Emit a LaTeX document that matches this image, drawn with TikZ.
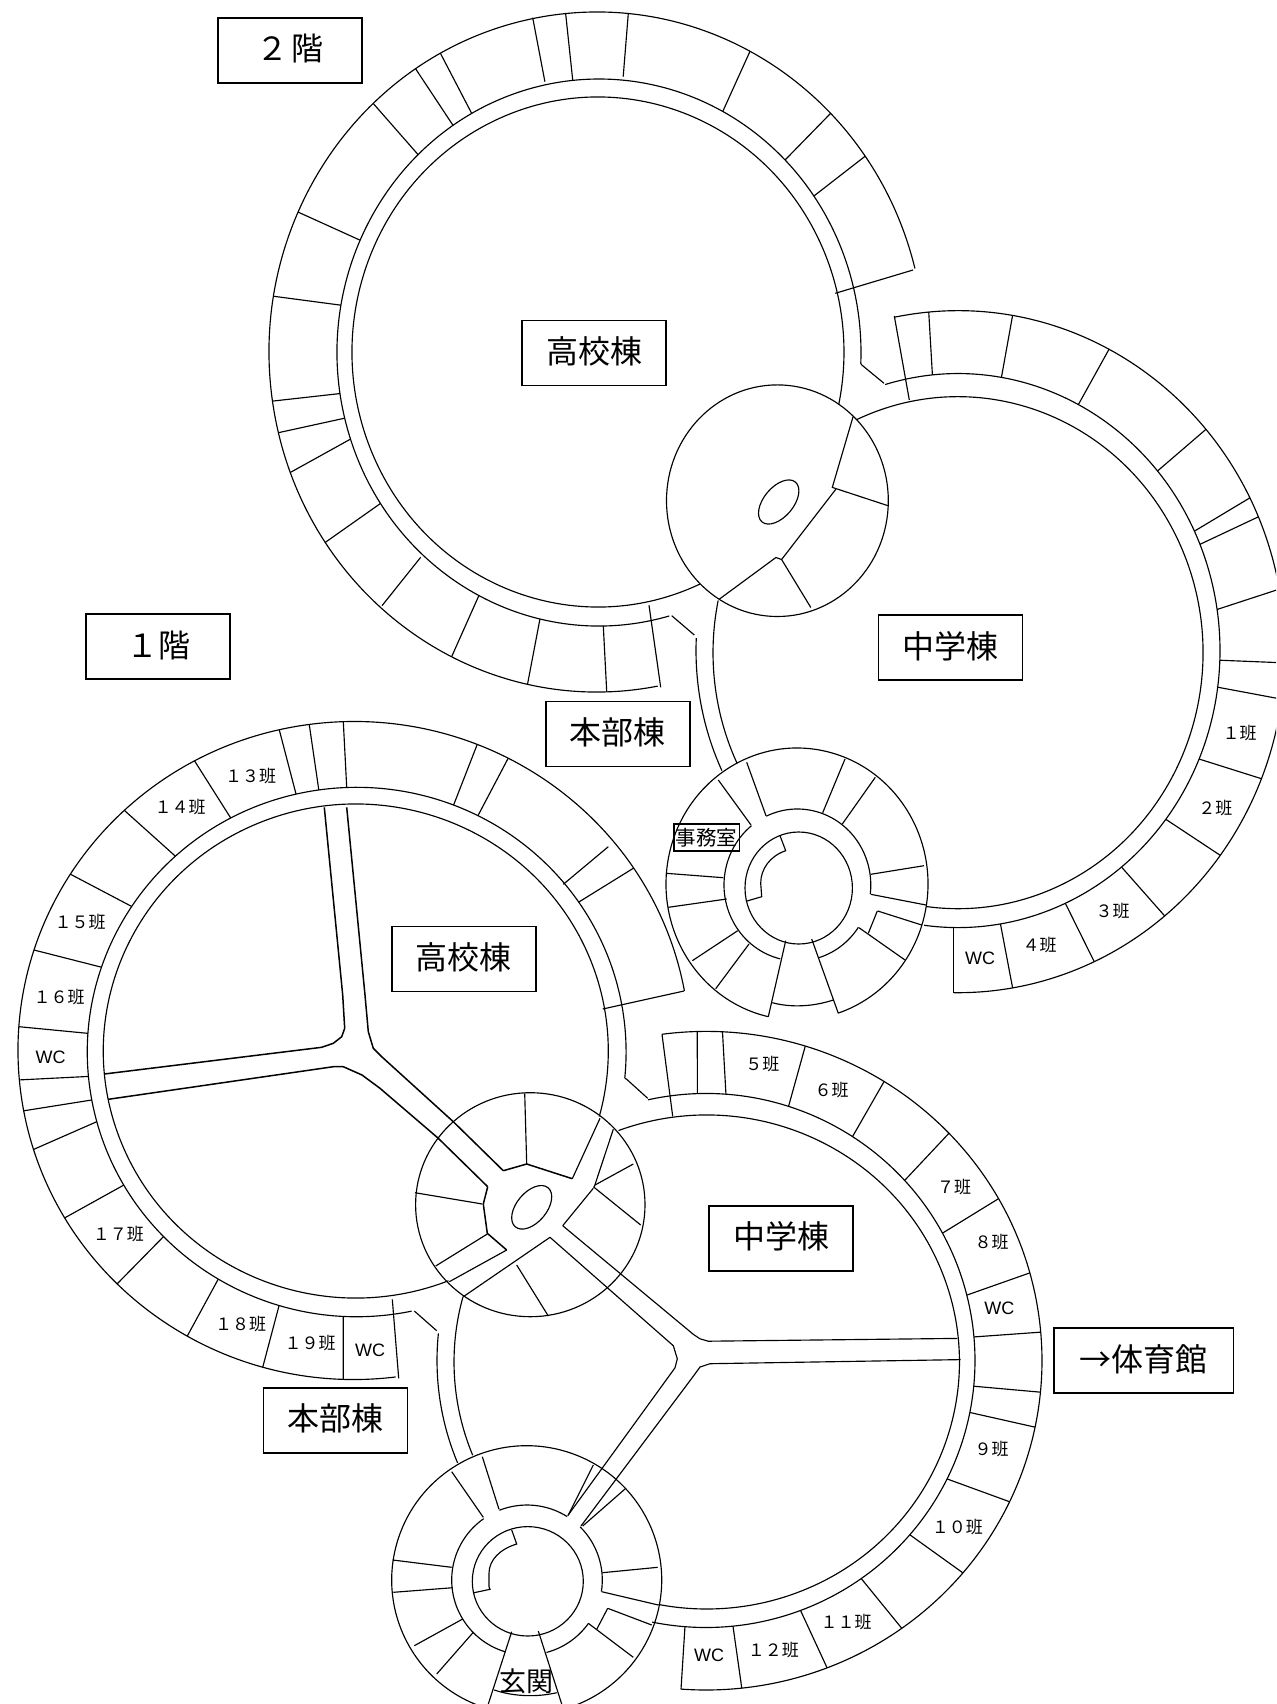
\documentclass[tikz,border=0pt]{standalone}
\usepackage{fontspec}
\setmainfont{Noto Sans CJK JP}
\newfontfamily\wcfont{Liberation Sans}
\tikzset{
  titlebox/.style={draw,line width=1.6pt,minimum width=144pt,minimum height=65pt,inner sep=0pt,text height=27pt,text depth=6pt,font=\fontsize{32}{32}\selectfont},
  room/.style={inner sep=0pt,font=\fontsize{17}{17}\selectfont},
  wc/.style={inner sep=0pt,font=\wcfont\fontsize{18}{18}\selectfont},
  passage/.style={line width=1.5pt,line join=round}
}
% arc of an ellipse, clockwise on the page, between two points near it
\newcommand{\wing}[8]{%
  \pgfmathsetmacro\wa{atan2((#6-#2)/#4,(#5-#1)/#3)}%
  \pgfmathsetmacro\wb{atan2((#8-#2)/#4,(#7-#1)/#3)}%
  \pgfmathsetmacro\wb{\wb<\wa ? \wb+360 : \wb}%
  \draw ([shift={(#1,#2)}]\wa:#3 and #4) arc[start angle=\wa,end angle=\wb,x radius=#3,y radius=#4];
}
% walls from the corridor ellipse (1-4) to the outer ellipse (5-8)
\newcommand{\cells}[9]{%
  \foreach \xa/\ya/\xb/\yb in {#9}{
    \pgfmathsetmacro\wa{atan2((\ya-#2)/#4,(\xa-#1)/#3)}
    \pgfmathsetmacro\wb{atan2((\yb-#6)/#8,(\xb-#5)/#7)}
    \draw ([shift={(#1,#2)}]\wa:#3 and #4) -- ([shift={(#5,#6)}]\wb:#7 and #8);
  }
}
\begin{document}
\begin{tikzpicture}[x=1pt,y=1pt,yscale=-1,line width=1.15pt]
\useasboundingbox (0,0) rectangle (1276,1704);
\clip (0,0) rectangle (1276,1704);

% 2F high school
\wing{598}{352}{246}{255}{700.7}{585.7}{839}{404}
\wing{599}{352.5}{262}{273.5}{669.3}{616}{860.6}{363.3}
\wing{597}{352}{328}{340}{657.7}{685.7}{913}{269}
\cells{599}{352.5}{262}{273.5}{597}{352}{328}{340}{
416.6/153/372.8/103, 452.8/125/414.9/67.7, 471.3/112.7/440.1/52.7,
572.7/80/565.6/13.3, 723/111/749.5/52.3, 787/158/829/115,
813.9/196/863.1/157.7, 359.7/240/297.9/212, 340/305/273.9/296.3,
337.3/394/273.3/401, 344.3/418.3/280/432.3, 350/439.3/292.3/471.7,
380.7/503.3/327.7/540.7, 479/595.3/452.3/655.3, 540/618.7/527.7/683.3,
603.3/626/606.7/690.7}
\draw (544.9,81.7) -- (532.7,17.7);
\draw (623.2,76.7) -- (628.3,13.3);
\draw (420.7,557.3) -- (382,605.7);
\draw (649,605.3) -- (660.7,687.3);
\draw (913,270) -- (835.3,293.3);
\draw (671.7,615.7) -- (694.3,635);
\draw (860.6,363.3) -- (861.8,365) -- (884,383.3);

% 2F junction
\draw (777.4,500.7) ellipse [x radius=110.9,y radius=115.8];
\draw (778.7,502) ellipse [x radius=26,y radius=14.8,rotate=-50];
\draw (853,416.9) -- (832.3,487.4) -- (888.3,505.8);
\draw (836,489) -- (781.6,559.5) -- (810.8,607.5);
\draw (781.6,559.5) -- (775.9,557.5) -- (719.1,599.3);

% 2F junior high
\wing{958}{652.7}{245}{256}{856}{417.7}{926}{906.6}
\wing{958}{652.7}{245}{256}{737.4}{763.2}{716}{600}
\wing{958}{650.6}{262}{277}{885}{384}{924}{926}
\wing{958}{650.6}{262}{277}{721.7}{770.7}{694.8}{638}
\wing{958}{651.7}{327}{341}{894.3}{316}{953.6}{992.7}
\cells{958}{650.6}{262}{277}{958}{651.7}{327}{341}{
932.3/374/928.7/311.7, 1001.3/378.3/1012/319, 1079.3/402.7/1108.3/350.7,
1156.7/471.7/1203.3/431.7, 1194.7/531/1249/498.3, 1200.7/544/1257.3/517.3,
1218/609.3/1290/587, 1221/660.3/1287/663, 1218.3/687.3/1287/700,
1199/759/1260.7/778.4, 1167.4/820.6/1219.3/854.6, 1122/867.7/1164.5/915.7,
1065/902.5/1093.5/960, 1000/921/1012.4/986.6}
\draw (894.3,316) -- (909.3,400);
\draw (953.6,992.7) -- (953.6,927);

% 2F office wing
\wing{797}{884}{131}{136}{768.3}{1016.7}{838.3}{1013.3}
\wing{797.4}{885}{73.4}{76}{766}{815.7}{870.7}{894}
\wing{797.4}{885}{73.4}{76}{780}{960}{751}{825}
\wing{797.4}{885}{73.4}{76}{859}{927.7}{819}{959}
\draw (798.7,888) ellipse [x radius=53.7,y radius=56];
\draw (746.7,762.3) -- (766,815.7);
\draw (718.3,780) -- (751,825);
\draw (785.7,940.7) -- (768.3,1016.7);
\draw (811.7,939) -- (838.3,1013.3);
\draw (772.3,1002.7) .. controls (790,1007.5) and (812,1007) .. (833.3,1000);
\foreach \xa/\ya/\xb/\yb in {822.7/812.7/845/759, 842.3/824/875.3/777.3,
870.7/874.3/924/865.7, 859/927.7/905/960, 737.7/930.7/692.3/960.7,
749/944/715.7/988.7, 726.7/899/668.3/907.3, 723.3/877.7/666/873.3,
870.7/894.3/926/905, 877.7/911/921.7/925, 877.3/911/868.3/933.3}
\draw (\xa,\ya) -- (\xb,\yb);
\draw (780,835.7) -- (785.7,850.7) .. controls (770,856) and (760.7,869) .. (760.7,883.3)
  -- (761.7,896.7) -- (746,901.3);

% 1F high school
\wing{355.8}{1051}{252.5}{247}{449}{1282}{600}{1116.7}
\wing{356.7}{1052}{269.4}{264.7}{411.7}{1311.7}{625}{1078.3}
\wing{354}{1050.5}{336}{329}{395.7}{1377.3}{684}{991}
\cells{356.7}{1052}{269.4}{264.7}{354}{1050.5}{336}{329}{
295.7/792.7/279.3/730, 318.3/786.7/309.3/725, 346.7/787.3/343.3/721.7,
230/816.7/195/761.7, 174.3/855/124/810, 131/906/71.7/875,
100/966.7/34/950, 87.3/1033.3/19.3/1026.7, 86/1076.7/18.3/1080,
91.7/1100/24.3/1110.7, 96.7/1121.7/34/1149.3, 122.7/1185.7/65.7/1217.3,
160.7/1239.3/117.7/1283.3, 217.7/1280/187.3/1336, 278.7/1306.7/262.7/1367.3,
343.3/1316.7/343.3/1379.3, 454/804/477.7/743.3, 478.3/815/509/756.7,
579.3/901.7/633.3/868.3}
\draw (563.3,884.3) -- (608.3,846.7);
\draw (392.3,1299.3) -- (398.7,1378.3);
\draw (684,991) -- (602.7,1009);
\draw (414.3,1311) -- (436.7,1330.7);
\draw (625,1078.3) -- (626.7,1079.3) -- (647.7,1098.3);

% 1F passages, high school side
\draw[passage] (324.3,807.3) -- (342.7,995) -- (344.7,1028.3) -- (341.7,1036.7) -- (333.3,1043.3) -- (321.7,1047.3) -- (104.3,1074);
\draw[passage] (346.7,807.3) -- (365,995) -- (368.3,1031.7) -- (373.3,1048.3) -- (381.7,1056.7) -- (453.3,1121.7) -- (503.3,1170.7);
\draw[passage] (108.3,1099.3) -- (333.3,1066.7) -- (343.3,1066.7) -- (362,1075) -- (380,1088.3) -- (438.3,1138.3) -- (487.7,1186.7);

% 1F junction
\draw (530.3,1204.7) ellipse [x radius=114.7,y radius=112];
\draw (531.7,1207.3) ellipse [x radius=25.5,y radius=15,rotate=-50];
\draw[passage] (503.3,1170.7) -- (526.7,1164) -- (572.3,1178.7);
\draw (572.3,1178.7) -- (600,1118.3);
\draw[passage] (487.7,1186.7) -- (483.3,1204) -- (487.3,1233.3) -- (506.7,1250);
\foreach \xa/\ya/\xb/\yb in {526.7/1164/524.7/1093.3, 415/1192.7/482.3/1204,
487.3/1234/435.7/1266, 506.7/1250/449.3/1281.7, 463.3/1296.7/550/1237.3,
516.7/1265/548.3/1316, 562.7/1225.7/593.3/1188.3, 593.3/1186.7/640.7/1225,
595/1185/633.3/1164, 594.3/1186.7/613.3/1129.3}
\draw (\xa,\ya) -- (\xb,\yb);

% 1F junior high
\wing{706.7}{1362}{252.7}{247}{618.3}{1130}{658.3}{1605}
\wing{706.7}{1362}{252.7}{247}{473.3}{1455}{463.3}{1296.7}
\wing{706}{1360.5}{269}{267}{647.7}{1098.3}{651.7}{1624}
\wing{706}{1360.5}{269}{267}{456.7}{1463.3}{437.3}{1333.3}
\wing{706}{1360.7}{336}{329.3}{662}{1034.3}{681}{1689.3}
\cells{706}{1360.5}{269}{267}{706}{1360.7}{336}{329.3}{
697.3/1092.7/697.3/1032.2, 726/1093.5/722.3/1035.5, 789/1105/805/1047,
852.7/1136.3/884.3/1081.2, 906/1179.2/945.7/1136.3, 945.7/1231.4/998.3/1198.8,
970/1294.3/1029.3/1273, 976/1336.7/1040/1332.2, 976.7/1386.5/1040.7/1392.2,
971/1412.7/1034.3/1427, 946/1478.4/1009.3/1501.6, 910.7/1535.5/962.7/1572.7,
861.7/1579.2/901.7/1628.2, 800/1609/824/1660, 732.7/1623.3/741.7/1687.3}
\draw (662,1034.3) -- (672.7,1116.3);
\draw (685,1626) -- (681,1689.3);

% 1F passages, junior high side
\draw (562.7,1225.7) -- (693.3,1334.3) -- (700,1338.8) -- (708.3,1341.2) -- (957.3,1338.4);
\draw (960.7,1359.6) -- (710,1363.7) -- (700,1367) -- (691.7,1378.4) -- (581,1526);
\draw (550,1237.3) -- (673.3,1345.7) -- (677.3,1358.8) -- (675,1367.8) -- (567.7,1515.7);

% 1F entrance wing
\wing{526.7}{1580}{135}{134.3}{488.3}{1704}{561.7}{1704}
\wing{527}{1580}{75.3}{75}{499}{1509.3}{567.7}{1515.7}
\wing{527}{1580}{75.3}{75}{581}{1526}{602.3}{1591.7}
\wing{527}{1580}{75.3}{75}{588.3}{1623.3}{546}{1650.7}
\wing{527}{1580}{75.3}{75}{506}{1650}{482.7}{1517.3}
\draw (527.8,1581.3) ellipse [x radius=55.5,y radius=54.7];
\draw (494.3,1690) .. controls (515,1697) and (538,1697) .. (556.7,1692.7);
\foreach \xa/\ya/\xb/\yb in {499/1509.3/482.3/1456.7, 483.3/1517.3/451.7/1471.7,
511.7/1631.7/488.3/1704, 538.3/1631/561.7/1704, 602.3/1572.7/657.7/1567.3,
588.3/1623.3/633.3/1657.3, 596.7/1629.3/607.7/1608.3, 607.7/1608.3/651.7/1625,
601.7/1591.7/658.3/1605, 451.7/1567.3/392.7/1560, 452.7/1587.7/393.3/1592.3,
462.7/1619/414.3/1645.7, 473.3/1632.3/436.7/1674, 593.3/1465/568.3/1515,
625/1489/582.7/1526}
\draw (\xa,\ya) -- (\xb,\yb);
\draw (511.7,1530) -- (516.7,1544) .. controls (500,1549) and (489,1560) .. (489,1573.3)
  -- (489,1586.7) -- (490,1589.3) -- (474,1592.7);

% title boxes
\node[titlebox] (floortwo) at (290,50.5) {２\hspace{3pt}階};
\node[titlebox] (floorone) at (158,646.7) {１階};
\node[titlebox] (highup) at (594,352.8) {高校棟};
\node[titlebox] (juniorup) at (950.6,647.5) {中学棟};
\node[titlebox] (mainup) at (617.8,733.8) {本部棟};
\node[titlebox] (highdown) at (463.8,958.8) {高校棟};
\node[titlebox] (juniordown) at (781,1238.2) {中学棟};
\node[titlebox] (maindown) at (335.3,1420.3) {本部棟};
\node[titlebox,minimum width=179.6pt] (gym) at (1143.8,1360.5) {→体育館};
\node[draw,line width=1.6pt,minimum width=65.3pt,minimum height=27pt,inner sep=0pt,font=\fontsize{20.5}{20.5}\selectfont] (office) at (706.7,837.5) {事務室};
\node[inner sep=0pt,font=\fontsize{27}{27}\selectfont] (entrance) at (526.7,1681) {玄関};

% rooms
\foreach \name/\px/\py/\txt in {
r1/1239.6/733.3/１班, r2/1215.3/808.3/２班, r3/1112.6/910.7/３班, r4/1039.6/944.8/４班,
r5/762.3/1064/５班, r6/831.7/1090.2/６班, r7/954/1187.3/７班, r8/991.7/1242.4/８班,
r9/991.7/1448.6/９班, r10/957.3/1527.3/１０班, r11/846/1622/１１班, r12/773.3/1649.8/１２班,
r13/250.7/776/１３班, r14/180/807.3/１４班, r15/80/922.3/１５班, r16/59/997.3/１６班,
r17/118.3/1234.3/１７班, r18/240.7/1324.3/１８班, r19/310/1343.3/１９班}
\node[room] (\name) at (\px,\py) {\txt};
\foreach \name/\px/\py in {wca/980/958, wcb/999.3/1308.2, wcc/709/1655.7, wcd/50.7/1057.3, wce/370/1350}
\node[wc] (\name) at (\px,\py) {WC};
\end{tikzpicture}
\end{document}
